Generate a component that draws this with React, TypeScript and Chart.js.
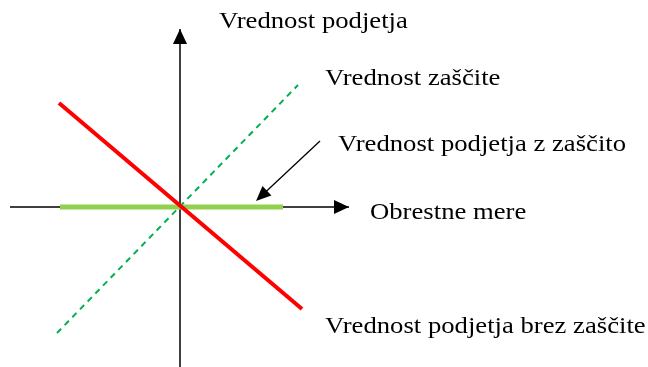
import React, { useEffect, useRef } from "react";
import { Chart, registerables } from "chart.js";

Chart.register(...registerables);

// Data coordinates: origin at the axes' crossing
const horizontalAxis = [
  { x: -1.7, y: 0 },
  { x: 1.69, y: 0 },
];
const verticalAxis = [
  { x: 0, y: -1.62 },
  { x: 0, y: 1.78 },
];
const valueWithoutHedge = [
  { x: -1.21, y: 1.04 },
  { x: 1.22, y: -1.02 },
];
const hedgeValue = [
  { x: -1.23, y: -1.26 },
  { x: 1.18, y: 1.22 },
];
const valueWithHedge = [
  { x: -1.2, y: 0 },
  { x: 1.03, y: 0 },
];
const pointerArrow = [
  { x: 1.4, y: 0.66 },
  { x: 0.76, y: 0.06 },
];

const labelTexts = [
  "Vrednost podjetja",
  "Vrednost zaščite",
  "Vrednost podjetja z zaščito",
  "Obrestne mere",
  "Vrednost podjetja brez zaščite",
];
const labelAnchors = [
  { x: 0.39, y: 1.79 },
  { x: 1.45, y: 1.22 },
  { x: 1.58, y: 0.56 },
  { x: 1.9, y: -0.12 },
  { x: 1.45, y: -1.26 },
];

const xRange = { min: -1.8, max: 4.68 };
const yRange = { min: -1.6, max: 2.07 };

const FONT = '23px "Liberation Serif"';

const decorPlugin = {
  id: "decor",
  afterDatasetsDraw(chart: any) {
    const ctx = chart.ctx;
    const xs = chart.scales.x;
    const ys = chart.scales.y;
    const px = (p: { x: number; y: number }) => ({
      x: xs.getPixelForValue(p.x),
      y: ys.getPixelForValue(p.y),
    });
    const head = (from: any, to: any, len: number, half: number) => {
      const a = px(from);
      const b = px(to);
      const ang = Math.atan2(b.y - a.y, b.x - a.x);
      ctx.save();
      ctx.fillStyle = "#000";
      ctx.beginPath();
      ctx.moveTo(b.x, b.y);
      ctx.lineTo(
        b.x - len * Math.cos(ang) + half * Math.sin(ang),
        b.y - len * Math.sin(ang) - half * Math.cos(ang)
      );
      ctx.lineTo(
        b.x - len * Math.cos(ang) - half * Math.sin(ang),
        b.y - len * Math.sin(ang) + half * Math.cos(ang)
      );
      ctx.closePath();
      ctx.fill();
      ctx.restore();
    };
    head(horizontalAxis[0], horizontalAxis[1], 15, 7);
    head(verticalAxis[0], verticalAxis[1], 15, 7);
    // pointer arrow
    const a = px(pointerArrow[0]);
    const b = px(pointerArrow[1]);
    ctx.save();
    ctx.strokeStyle = "#000";
    ctx.lineWidth = 1.3;
    ctx.beginPath();
    ctx.moveTo(a.x, a.y);
    const ang = Math.atan2(b.y - a.y, b.x - a.x);
    ctx.lineTo(b.x - 8 * Math.cos(ang), b.y - 8 * Math.sin(ang));
    ctx.stroke();
    ctx.restore();
    head(pointerArrow[0], pointerArrow[1], 15, 6.5);

    // labels
    ctx.save();
    ctx.fillStyle = "#000";
    ctx.font = FONT + ', "Times New Roman", serif';
    ctx.textBaseline = "alphabetic";
    ctx.textAlign = "left";
    labelTexts.forEach((t, i) => {
      const p = px(labelAnchors[i]);
      ctx.save();
      ctx.translate(p.x, p.y);
      ctx.scale(1.16, 1);
      ctx.fillText(t, 0, 0);
      ctx.restore();
    });
    ctx.restore();
  },
};

export default function App() {
  const ref = useRef<HTMLCanvasElement>(null);
  useEffect(() => {
    let chart: any = null;
    let cancelled = false;
    const line = (data: any, color: string, width: number, order: number, dash: number[] = []) => ({
      data,
      showLine: true,
      borderColor: color,
      backgroundColor: color,
      borderWidth: width,
      borderDash: dash,
      pointRadius: 0,
      pointHoverRadius: 0,
      borderCapStyle: "butt",
      fill: false,
      tension: 0,
      order,
    });
    const build = () => {
      if (cancelled || !ref.current) return;
      chart = new Chart(ref.current, {
        type: "scatter",
        data: {
          datasets: [
            line(horizontalAxis, "#000000", 1.5, 10),
            line(verticalAxis, "#000000", 1.5, 9),
            line(hedgeValue, "#00b050", 2, 8, [6, 5]),
            line(valueWithHedge, "#92d050", 5, 7),
            line(valueWithoutHedge, "#ff0000", 4, 6),
          ] as any,
        },
        options: {
          responsive: false,
          animation: false,
          devicePixelRatio: 1,
          layout: { padding: 0 },
          plugins: {
            legend: { display: false },
            tooltip: { enabled: false },
            title: { display: false },
          },
          events: [],
          scales: {
            x: { type: "linear", display: false, min: xRange.min, max: xRange.max },
            y: { type: "linear", display: false, min: yRange.min, max: yRange.max },
          },
        },
        plugins: [decorPlugin],
      } as any);
    };
    const fonts: any = (document as any).fonts;
    if (fonts && fonts.load) {
      fonts.load(FONT, "Vrednost zaščite").then(build, build);
    } else {
      build();
    }
    return () => {
      cancelled = true;
      if (chart) chart.destroy();
    };
  }, []);
  return (
    <div style={{ position: "fixed", left: 0, top: 0, width: 648, height: 367, background: "#fff" }}>
      <canvas ref={ref} width={648} height={367} style={{ width: 648, height: 367, display: "block" }} />
    </div>
  );
}
